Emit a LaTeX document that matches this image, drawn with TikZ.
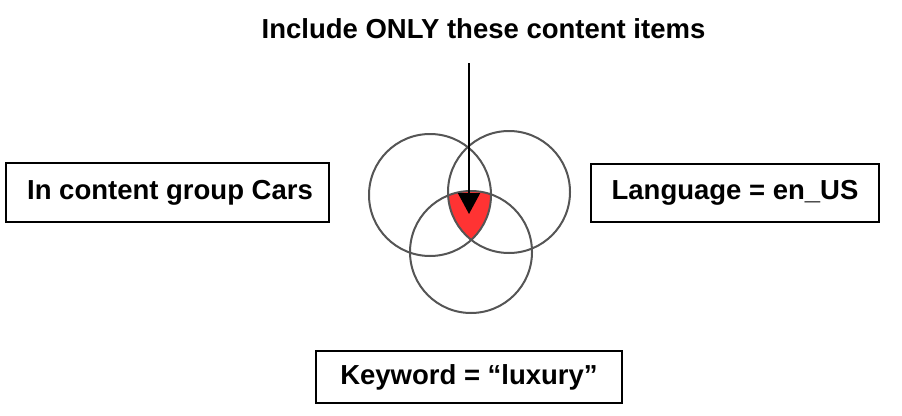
\documentclass[tikz,border=0pt]{standalone}
\usepackage{fontspec}
\setmainfont{Liberation Sans}
\usetikzlibrary{arrows.meta}

\definecolor{ringgray}{RGB}{85,85,85}
\definecolor{hitred}{RGB}{255,51,51}

\begin{document}
\begin{tikzpicture}[x=1pt, y=-1pt,
    filterbox/.style={draw, line width=2.5pt, inner sep=0pt, font=\fontsize{27.5}{32}\selectfont\bfseries},
    ring/.style={draw=ringgray, line width=2pt, circle, minimum size=122pt, inner sep=0pt}]
    \useasboundingbox (0,0) rectangle (902,415);

    % Draw red overlap of the three sets
    \begin{scope}
        \clip (430,195) circle (61);
        \clip (509,192) circle (61);
        \fill[hitred] (471,252) circle (61);
    \end{scope}

    % Draw circles
    \node[ring] (cars) at (430,195) {};
    \node[ring] (lang) at (509,192) {};
    \node[ring] (kw) at (471,252) {};

    % Draw heading and arrow
    \node[font=\fontsize{27.5}{32}\selectfont\bfseries] (head) at (483.5,28.5) {Include ONLY these content items};
    \coordinate (start) at (469,63);
    \coordinate (hit) at (469,214);
    \draw[line width=2pt, -{Triangle[width=22pt, length=21pt]}] (start) -- (hit);

    % Draw filter boxes
    \node[filterbox, minimum width=323pt, minimum height=59pt] (carsbox) at (167.5,192.5) {\hspace*{5pt}In content group Cars};
    \node[filterbox, minimum width=288pt, minimum height=58pt] (langbox) at (735,193) {Language = en\_US};
    \node[filterbox, minimum width=306pt, minimum height=52pt] (kwbox) at (469,377) {Keyword = “luxury”};
\end{tikzpicture}
\end{document}
